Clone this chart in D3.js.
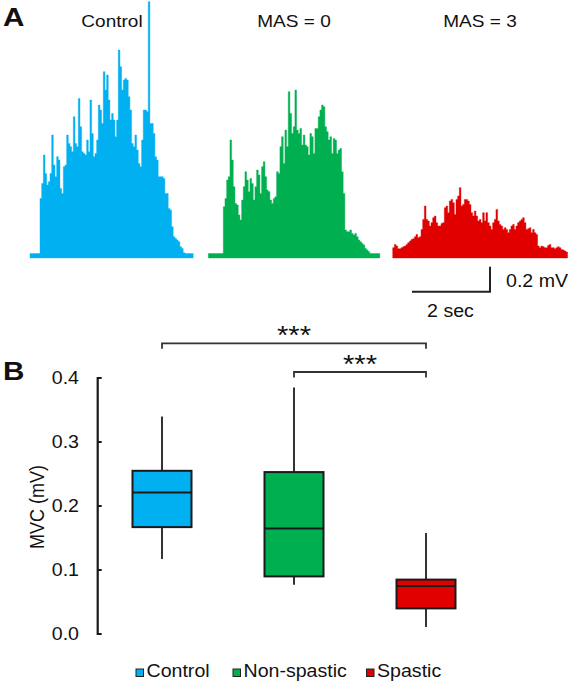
<!DOCTYPE html>
<html><head><meta charset="utf-8">
<script src="https://cdn.jsdelivr.net/npm/d3@7/dist/d3.min.js"></script>
<style>html,body{margin:0;padding:0;background:#fff}svg{display:block}</style>
</head><body><svg id="c" width="570" height="684"></svg>
<script>
// ---------- DATA ----------
// Panel A: rectified EMG envelopes (mV), one value per bin
const binSec = 0.0427;
const controlTrace = [0,0,0,0,0,0,
0.461,0.581,0.808,0.661,0.568,0.595,0.661,0.968,0.728,0.635,0.795,0.768,0.541,0.501,0.715,0.728,0.968,0.901,0.875,0.835,
1.115,0.901,0.875,1.261,1.035,0.835,0.821,0.808,0.928,0.835,1.248,0.981,0.795,0.821,0.928,1.208,1.168,1.061,1.475,1.328,
1.448,1.248,1.088,1.141,1.088,0.955,1.088,1.648,1.515,1.328,1.408,1.421,1.408,1.275,1.168,0.901,0.875,0.968,0.848,0.741,
0.715,0.928,1.168,1.168,1.155,2.035,1.061,1.061,0.981,0.795,0.768,0.635,0.635,0.635,0.621,0.501,0.501,0.381,0.368,0.235,
0.155,0.141,0.128,0.115,0.075,0.061,0.027,0.008,
0,0,0,0];
const nonSpasticTrace = [0,0,0,0,0,0,0,0,0,
0.395,0.461,0.608,0.635,0.928,0.768,0.555,0.421,0.408,0.328,0.288,0.448,0.555,0.675,0.608,0.515,0.621,0.581,0.448,0.555,
0.688,0.648,0.501,0.715,0.755,0.635,0.528,0.515,0.448,0.421,0.461,0.475,0.675,0.661,0.875,0.955,0.741,1.008,0.875,1.315,
1.141,0.981,1.035,1.328,1.008,0.981,1.021,0.888,0.968,0.888,0.875,0.808,0.981,0.955,0.821,1.021,1.021,1.115,1.168,1.208,
1.195,1.035,0.995,0.928,0.955,0.821,0.941,0.928,0.821,0.848,0.861,0.675,0.501,0.208,0.195,0.195,0.208,0.181,0.168,0.181,
0.155,0.128,0.115,0.101,0.088,0.061,0.048,0.035,0.016,
0,0,0,0,0];
const spasticTrace = [
0.067,0.093,0.080,0.059,0.059,0.067,0.075,0.080,0.093,0.107,0.120,0.133,0.139,0.155,0.173,0.147,0.155,0.213,0.293,0.400,
0.293,0.280,0.240,0.267,0.307,0.320,0.267,0.240,0.240,0.261,0.267,0.387,0.400,0.347,0.440,0.453,0.427,0.333,0.453,0.480,
0.547,0.400,0.413,0.453,0.453,0.440,0.413,0.347,0.320,0.360,0.320,0.280,0.293,0.267,0.347,0.280,0.347,0.267,0.240,0.213,
0.267,0.293,0.373,0.280,0.253,0.240,0.213,0.227,0.213,0.187,0.213,0.240,0.253,0.213,0.240,0.267,0.280,0.293,0.307,0.267,
0.213,0.219,0.227,0.187,0.213,0.187,0.173,0.080,0.067,0.080,0.075,0.067,0.067,0.085,0.093,0.067,0.067,0.059,0.067,0.075,
0.067,0.053,0.048,0.040,0.032];
const traceTitles = ["Control", "MAS = 0", "MAS = 3"];
const scaleBarSec = 2, scaleBarMV = 0.2;

// Panel B: box plot summary (mV)
const groups = ["Control", "Non-spastic", "Spastic"];
const whiskerLow  = [0.117, 0.077, 0.011];
const q1          = [0.167, 0.090, 0.040];
const median      = [0.221, 0.165, 0.075];
const q3          = [0.255, 0.253, 0.085];
const whiskerHigh = [0.340, 0.385, 0.158];
const yTicks = [0, 0.1, 0.2, 0.3, 0.4];
const comparisons = [["Control","Spastic","***"],["Non-spastic","Spastic","***"]];
const colors = ["#00B0F0", "#00B050", "#E00000"];

// ---------- DRAW ----------
const svg = d3.select("#c");
const FONT = "'Liberation Sans', Arial, Helvetica, sans-serif";
const SX = 1.12;
function txt(x, y, s, size, anchor, weight, rot) {
  return svg.append("text")
    .attr("transform", `translate(${x},${y}) scale(${SX},1)` + (rot ? ` rotate(${rot})` : ""))
    .attr("text-anchor", anchor || "start")
    .attr("font-family", FONT).attr("font-size", size)
    .attr("font-weight", weight || "normal").attr("fill", "#111").text(s);
}

// Panel A
const pxPerSec = 39, pxPerMV = 125, baseY = 256;
const traces = [controlTrace, nonSpasticTrace, spasticTrace];
const traceStart = [30, 208.3, 392.7];
const yA = d3.scaleLinear().domain([0, 1]).range([baseY, baseY - pxPerMV]);
traces.forEach((tr, i) => {
  const xA = d3.scaleLinear().domain([0, 1]).range([traceStart[i], traceStart[i] + pxPerSec]);
  const pts = tr.map((v, k) => [k * binSec, v]);
  pts.push([tr.length * binSec, tr[tr.length - 1]]);
  const area = d3.area()
    .x(d => xA(d[0]))
    .y0(baseY + 2)
    .y1(d => Math.min(yA(d[1]), baseY - 2.5))
    .curve(d3.curveStepAfter);
  svg.append("path").attr("d", area(pts)).attr("fill", colors[i])
    .attr("stroke", colors[i]).attr("stroke-width", 0.4);
});
txt(112, 27, traceTitles[0], 17, "middle");
txt(294, 27, traceTitles[1], 17, "middle");
txt(480, 27, traceTitles[2], 17, "middle");
txt(3, 26, "A", 26.5, "start", "bold");

// scale bar
const sbX = 490, sbY = 291.7;
const sbXScale = d3.scaleLinear().domain([0, 1]).range([0, pxPerSec]);
const sbYScale = d3.scaleLinear().domain([0, 1]).range([0, pxPerMV]);
svg.append("path")
  .attr("d", `M${sbX - sbXScale(scaleBarSec)},${sbY}H${sbX}V${sbY - sbYScale(scaleBarMV)}`)
  .attr("fill", "none").attr("stroke", "#222").attr("stroke-width", 2);
txt(506, 287, "0.2 mV", 17.5, "start");
txt(450.5, 317, "2 sec", 17.5, "middle");

// Panel B
const y = d3.scaleLinear().domain([0, 0.4]).range([634, 378]);
const x = d3.scalePoint().domain(groups).range([162, 426]);
const boxW = 59;
const axisX = 97.7;
svg.append("line").attr("x1", axisX).attr("x2", axisX).attr("y1", y(0.4) - 1).attr("y2", y(0) + 1)
  .attr("stroke", "#1a1a1a").attr("stroke-width", 2.2);
yTicks.forEach(t => {
  svg.append("line").attr("x1", axisX).attr("x2", axisX + 4).attr("y1", y(t)).attr("y2", y(t))
    .attr("stroke", "#1a1a1a").attr("stroke-width", 2);
  txt(79, y(t) + 6.3, d3.format(".1f")(t), 17.5, "end");
});
txt(44, 507, "MVC (mV)", 18, "middle", "normal", -90);
txt(3, 380, "B", 26.5, "start", "bold");

groups.forEach((g, i) => {
  const cx = x(g);
  svg.append("line").attr("x1", cx).attr("x2", cx).attr("y1", y(whiskerHigh[i])).attr("y2", y(q3[i]))
    .attr("stroke", "#333").attr("stroke-width", 2);
  svg.append("line").attr("x1", cx).attr("x2", cx).attr("y1", y(q1[i])).attr("y2", y(whiskerLow[i]))
    .attr("stroke", "#333").attr("stroke-width", 2);
  svg.append("rect").attr("x", cx - boxW / 2).attr("y", y(q3[i]))
    .attr("width", boxW).attr("height", y(q1[i]) - y(q3[i]))
    .attr("fill", colors[i]).attr("stroke", "#1a1a1a").attr("stroke-width", 2);
  svg.append("line").attr("x1", cx - boxW / 2).attr("x2", cx + boxW / 2)
    .attr("y1", y(median[i])).attr("y2", y(median[i]))
    .attr("stroke", "#1a1a1a").attr("stroke-width", 2);
});

// significance brackets
const brY = [343.3, 372];
comparisons.forEach((c, k) => {
  const x1 = x(c[0]), x2 = x(c[1]), yy = brY[k];
  svg.append("path").attr("d", `M${x1},${yy + 5.5}V${yy}H${x2}V${yy + 5.5}`)
    .attr("fill", "none").attr("stroke", "#333").attr("stroke-width", 1.8);
  txt((x1 + x2) / 2, yy + 1, c[2], 26, "middle");
});

// legend
const legX = [136, 233, 366.5];
groups.forEach((g, i) => {
  svg.append("rect").attr("x", legX[i]).attr("y", 669).attr("width", 7.5).attr("height", 7.5)
    .attr("fill", colors[i]).attr("stroke", "#222").attr("stroke-width", 1);
  txt(legX[i] + 10.5, 677.3, g, 17.5, "start");
});
</script></body></html>
